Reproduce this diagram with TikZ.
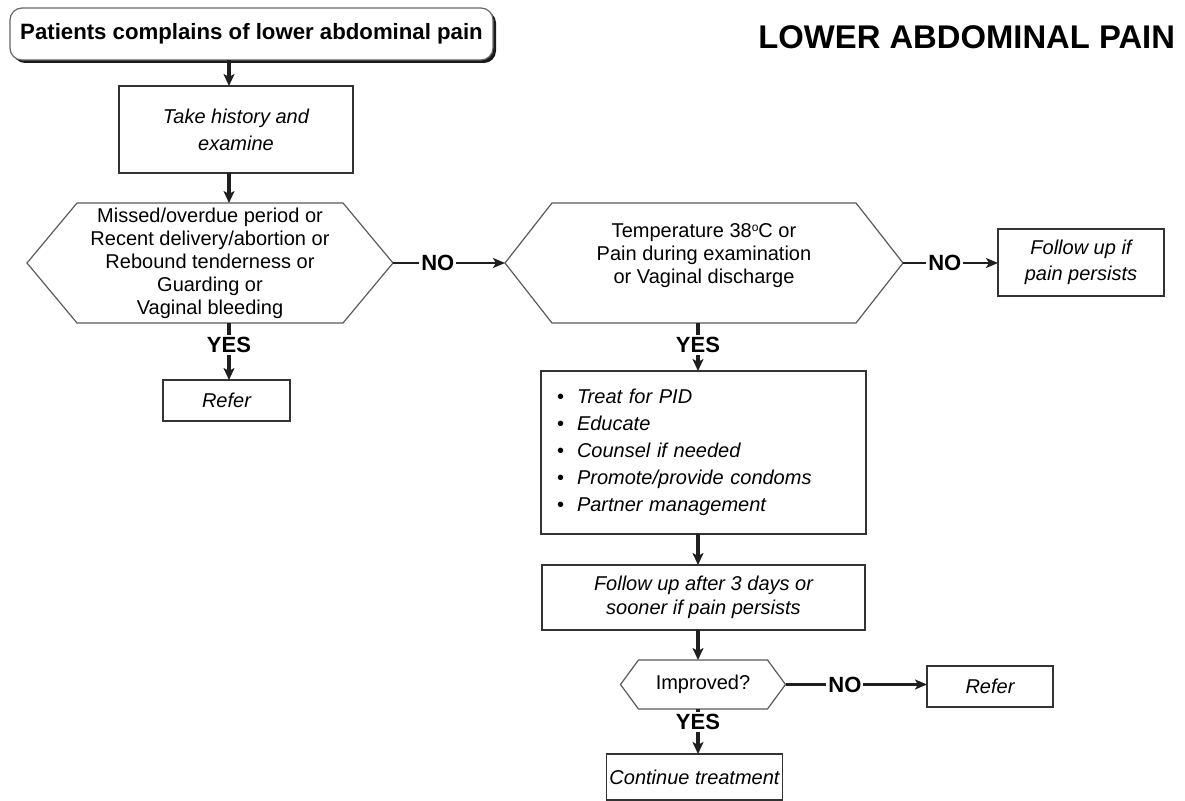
\documentclass[tikz,border=0pt]{standalone}
\usepackage{fontspec}
\setmainfont{Liberation Sans}
\usetikzlibrary{calc,arrows.meta,shadows}

% hexagonal decision outline around a named node, #2 = side indent
\newcommand\hexoutline[2]{%
  \draw[hexline] ($(#1.north west)+(#2,0)$) -- ($(#1.north east)+(-#2,0)$)
    -- (#1.east) -- ($(#1.south east)+(-#2,0)$)
    -- ($(#1.south west)+(#2,0)$) -- (#1.west) -- cycle;}
\newcommand\bul[1]{\makebox[10pt][l]{\textbullet}\textit{#1}}
\newcommand\degsign{\raisebox{3.2pt}{\fontsize{6}{6}\selectfont o}}

\begin{document}
\begin{tikzpicture}[x=0.5pt,y=-0.5pt,
  every node/.style={inner sep=0pt, outer sep=0pt},
  box/.style={draw=black!80, line width=0.6pt, fill=white, align=center,
    font=\fontsize{10}{13.5}\selectfont\itshape},
  hex/.style={align=center, font=\fontsize{10}{11.5}\selectfont},
  hexline/.style={draw=black!65, line width=0.6pt},
  flow/.style={draw=black!88, line width=1.8pt, -{Stealth[length=6pt,width=5.5pt,inset=1.5pt]}},
  side/.style={draw=black!88, line width=1.1pt, -{Stealth[length=6pt,width=5pt,inset=1.5pt]}},
  lab/.style={fill=white, font=\fontsize{11}{12}\selectfont\bfseries,
    inner xsep=1pt, inner ysep=1pt}
]
\useasboundingbox (0,0) rectangle (1185,801);

\coordinate (colA) at (229,0);
\coordinate (colB) at (698,0);

% start box with drop shadow
\node[draw=black!60, line width=0.6pt, rounded corners=6pt, fill=white,
  minimum width=241.5pt, minimum height=26pt,
  font=\fontsize{11.1}{13}\selectfont\bfseries,
  drop shadow={shadow xshift=1.5pt, shadow yshift=-1.5pt, fill=black!90, opacity=1}]
  (start) at (251.5,34) {Patients complains of lower abdominal pain};

\node[font=\fontsize{16.4}{18}\selectfont\bfseries, anchor=east]
  (title) at (1175,37) {LOWER ABDOMINAL PAIN};

\node[box, minimum width=117pt, minimum height=43.5pt] (hist) at (236,129.5)
  {Take history and\\examine};

\node[hex, minimum width=183pt, minimum height=60pt] (h1) at (210,263)
  {Missed/overdue period or\\Recent delivery/abortion or\\Rebound tenderness or\\Guarding or\\Vaginal bleeding};
\hexoutline{h1}{50}

\node[hex, minimum width=199pt, minimum height=60pt] (h2) at (704,263)
  {\begin{tabular}{@{}c@{}}Temperature 38\degsign C or\\Pain during examination\\or Vaginal discharge\\[7pt]\end{tabular}};
\hexoutline{h2}{47}

\node[box, minimum width=83pt, minimum height=33.5pt,
  font=\fontsize{10}{13}\selectfont\itshape] (fu1) at (1081,262.5)
  {Follow up if\\pain persists};

\node[box, minimum width=63.5pt, minimum height=20.5pt] (ref1) at (226.5,400.5) {Refer};

\node[box, minimum width=162.5pt, minimum height=81.5pt, text width=146.5pt,
  align=left, font=\fontsize{10}{13.5}\selectfont] (treat) at (703.5,452.5)
  {\bul{Treat for PID}\\\bul{Educate}\\\bul{Counsel if needed}\\\bul{Promote/provide condoms}\\\bul{Partner management}};

\node[box, minimum width=161.5pt, minimum height=32.5pt,
  font=\fontsize{10}{12}\selectfont\itshape] (fu2) at (703.5,597.5)
  {Follow up after 3 days or\\sooner if pain persists};

\node[hex, minimum width=82.5pt, minimum height=24.5pt] (imp) at (703,684.5) {Improved?};
\hexoutline{imp}{18}

\node[box, minimum width=63pt, minimum height=20.5pt] (ref2) at (990,686.5) {Refer};

\node[box, minimum width=88pt, minimum height=23pt] (cont) at (694.5,777) {Continue treatment};

% connectors
\draw[flow] (start.south -| colA) -- (hist.north -| colA);
\draw[flow] (hist.south -| colA) -- (h1.north -| colA);
\draw[flow] (h1.south -| colA) -- node[lab, pos=0.39] {YES} (ref1.north -| colA);
\draw[side] (h1.east) -- node[lab, pos=0.4] {NO} (h2.west);
\draw[side] (h2.east) -- node[lab, pos=0.44] {NO} (h2.east -| fu1.west);
\draw[flow] (h2.south -| colB) -- node[lab, pos=0.46] {YES} (treat.north -| colB);
\draw[flow] (treat.south -| colB) -- (fu2.north -| colB);
\draw[flow] (fu2.south -| colB) -- (imp.north -| colB);
\draw[side] (imp.east) -- node[lab, pos=0.42] {NO} (imp.east -| ref2.west);
\draw[flow] (imp.south -| colB) -- node[lab, pos=0.29] {YES} (cont.north -| colB);
\end{tikzpicture}
\end{document}
